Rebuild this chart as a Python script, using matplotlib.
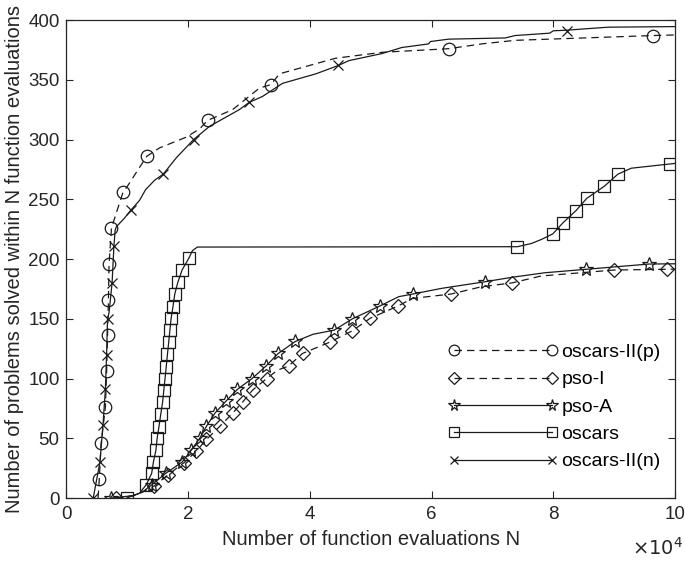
import matplotlib
matplotlib.use("Agg")
import matplotlib.pyplot as plt
from matplotlib.lines import Line2D
from matplotlib.ticker import FuncFormatter, MultipleLocator

plt.rcParams['font.family'] = ['Liberation Sans', 'DejaVu Sans']

# ---------------- data (N in evaluations, y = problems solved) ----------------
# oscars-II(p)
p_line_N = [5200, 5400, 5700, 6400, 6600, 6750, 6900, 7000, 7400, 9300, 9900, 13200, 15300,
            19700, 21900, 23200, 27300, 31700, 33600, 35000, 44200, 51900, 62800, 68200,
            73700, 96300, 100000]
p_line_y = [0, 16, 46, 76, 106, 136, 166, 196, 226, 256, 260, 286, 293, 302, 309, 316, 325,
            343, 346, 355, 368, 373, 376, 380, 383, 387, 387.5]
p_mark_N = [5400, 5700, 6400, 6600, 6750, 6900, 7000, 7400, 9300, 13200, 23200, 33600, 62800, 96300]
p_mark_y = [16, 46, 76, 106, 136, 166, 196, 226, 256, 286, 316, 346, 376, 387]

# pso-I
i_line_N = [8100, 11000, 12500, 14400, 16700, 19300, 21300, 23000, 25200, 27300, 29000, 30600,
            32900, 34700, 36500, 38800, 43300, 47000, 49900, 54500, 56800, 63200, 68200,
            73200, 78000, 90000, 98700, 100000]
i_line_y = [0, 2, 5, 10, 19.5, 29.5, 39, 49, 60, 71, 80.6, 90.4, 100, 107, 110.5, 121, 130.5,
            140, 150.4, 160.7, 167, 170.7, 176.8, 180, 185.8, 190.8, 191.4, 191.5]
i_mark_N = [8100, 14400, 16700, 19300, 21300, 23000, 25200, 27300, 29000, 30600, 32900, 36500,
            38800, 43300, 47000, 49900, 54500, 63200, 73200, 90000, 98700]
i_mark_y = [0, 10, 19.5, 29.5, 39, 49, 60, 71, 80.6, 90.4, 100, 110.5, 121, 130.5, 140, 150.4,
            160.7, 170.7, 180, 190.8, 191.4]

# pso-A
a_line_N = [7400, 11000, 12500, 14000, 16400, 19000, 20500, 21900, 23000, 24400, 26200, 28100,
            30500, 32800, 34800, 37600, 40500, 44000, 47000, 51500, 54600, 56900, 61700,
            68800, 73200, 78600, 85400, 95700, 100000]
a_line_y = [0, 2, 5, 11, 21, 30, 40, 50, 60, 71, 81, 91, 100, 110.5, 121, 131, 137, 140.5, 150,
            160.7, 168.5, 170.7, 175.5, 181, 184.7, 188.5, 191.4, 195.8, 196]
a_mark_N = [7400, 14000, 16400, 19000, 20500, 21900, 23000, 24400, 26200, 28100, 30500, 32800,
            34800, 37600, 44000, 47000, 51500, 56900, 68800, 85400, 95700]
a_mark_y = [0, 11, 21, 30, 40, 50, 60, 71, 81, 91, 100, 110.5, 121, 131, 140.5, 150, 160.7,
            170.7, 181, 191.4, 195.8]

# oscars
o_line_N = [9900, 12000, 13100, 14000, 14300, 14700, 14900, 15200, 15500, 15800, 16000, 16200,
            16400, 16600, 16800, 17000, 17200, 17500, 17800, 18300, 19000, 20100, 20700,
            21500, 74100, 76400, 78100, 79900, 81600, 83700, 85500, 88400, 90600, 92800,
            99100, 100000]
o_line_y = [0, 4, 11, 20.6, 30.4, 40, 50, 59.7, 70.3, 80.3, 90.4, 100, 110, 120.5, 130.3, 140.6,
            150.4, 160, 170.7, 180.5, 190.8, 200.6, 207, 210, 210.3, 213, 216.5, 221, 230.4,
            240.4, 250.8, 261, 271, 276, 279.5, 280]
o_mark_N = [9900, 13100, 14000, 14300, 14700, 14900, 15200, 15500, 15800, 16000, 16200, 16400,
            16600, 16800, 17000, 17200, 17500, 17800, 18300, 19000, 20100, 74100, 79900, 81600,
            83700, 85500, 88400, 90600, 99100]
o_mark_y = [0, 11, 20.6, 30.4, 40, 50, 59.7, 70.3, 80.3, 90.4, 100, 110, 120.5, 130.3, 140.6,
            150.4, 160, 170.7, 180.5, 190.8, 200.6, 210.3, 221, 230.4, 240.4, 250.8, 261, 271, 279.5]

# oscars-II(n)
n_line_N = [4400, 5500, 6000, 6400, 6600, 6750, 7000, 7500, 7800, 8000, 8200, 9500, 10600,
            12000, 13000, 14500, 15900, 18100, 20900, 23500, 28400, 30000, 32200, 35500,
            41000, 44700, 46400, 51900, 55100, 59500, 59800, 62800, 72100, 73700, 79400,
            80000, 82300, 84600, 89000, 100000]
n_line_y = [0, 30, 61, 91, 120, 150, 155, 180, 211, 224, 227, 234, 241, 249, 258, 266, 271, 285,
            300, 311, 325, 331, 336, 347, 355, 362, 366, 372, 377, 380, 382, 384, 385, 387, 389,
            391, 391.5, 392.4, 394, 394.5]
n_mark_N = [4400, 5500, 6000, 6400, 6600, 6750, 7500, 7800, 10600, 15900, 20900, 30000, 44700, 82300]
n_mark_y = [0, 30, 61, 91, 120, 150, 180, 211, 241, 271, 300, 331, 362, 391]

labels = ['oscars-II(p)', 'pso-I', 'pso-A', 'oscars', 'oscars-II(n)']

# ---------------- figure ----------------
fig = plt.figure(figsize=(6.85, 5.64), dpi=100)
ax = fig.add_axes([0.097, 0.117, 0.8885, 0.8475])

lc = '#1a1a1a'
lw = 0.9
mew = 0.9
fs = 14

series = [
    (p_line_N, p_line_y, p_mark_N, p_mark_y, '--', 'o', 9),
    (i_line_N, i_line_y, i_mark_N, i_mark_y, '--', 'D', 7.5),
    (a_line_N, a_line_y, a_mark_N, a_mark_y, '-', '*', 10),
    (o_line_N, o_line_y, o_mark_N, o_mark_y, '-', 's', 8),
    (n_line_N, n_line_y, n_mark_N, n_mark_y, '-', 'x', 7),
]

handles = []
for (lx, ly, mx, my, ls, mk, ms), lab in zip(series, labels):
    dashes = (6, 4) if ls == '--' else None
    line, = ax.plot(lx, ly, color=lc, lw=lw, linestyle=ls)
    if dashes:
        line.set_dashes(dashes)
    ax.plot(mx, my, linestyle='none', marker=mk, markersize=ms, markerfacecolor='none',
            markeredgecolor=lc, markeredgewidth=mew)
    h = Line2D([], [], color=lc, lw=lw, linestyle=ls, marker=mk, markersize=ms * 0.85,
               markerfacecolor='none', markeredgecolor=lc, markeredgewidth=mew)
    if dashes:
        h.set_dashes(dashes)
    handles.append(h)

ax.set_xlim(0, 100000)
ax.set_ylim(0, 400)
ax.xaxis.set_major_locator(MultipleLocator(20000))
ax.yaxis.set_major_locator(MultipleLocator(50))
ax.xaxis.set_major_formatter(FuncFormatter(lambda v, p: f"{v/1e4:g}"))

axc = '#262626'
for s in ax.spines.values():
    s.set_color(axc)
    s.set_linewidth(0.9)
ax.tick_params(direction='in', length=5, width=0.8, colors=axc, labelsize=13.5,
               top=True, right=True, labelcolor='#262626')
ax.tick_params(axis='x', pad=6)
ax.tick_params(axis='y', pad=5)

ax.set_xlabel('Number of function evaluations N', fontsize=14.5, color='#262626', labelpad=5)
ax.set_ylabel('Number of problems solved within N function evaluations', fontsize=14.5,
              color='#262626', labelpad=3)
fig.text(0.997, 0.01, r'$\times10^{4}$', fontsize=14, color='#262626', ha='right', va='bottom')

leg = ax.legend(handles, labels, loc='lower left', bbox_to_anchor=(0.628, 0.0577), frameon=False,
                fontsize=fs, numpoints=2, handlelength=5.6, handletextpad=0.2,
                labelspacing=0.5, borderpad=0.0, borderaxespad=0.0)

fig.savefig('out.png', dpi=100)
